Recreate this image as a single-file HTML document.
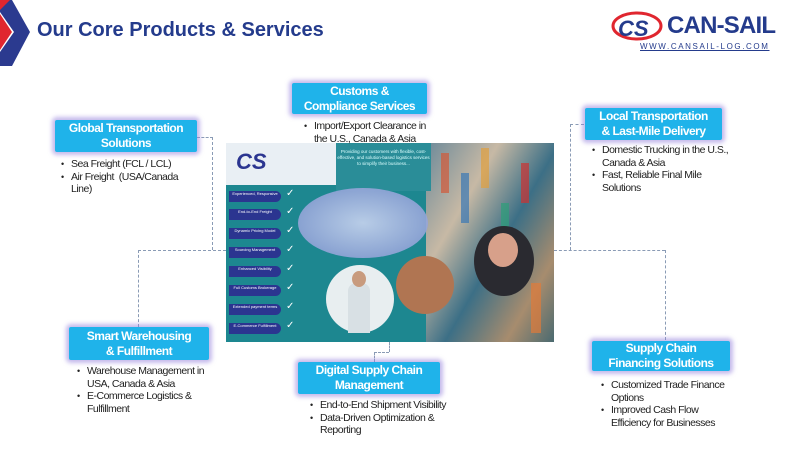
<!DOCTYPE html>
<html><head><meta charset="utf-8"><style>
body{margin:0;width:800px;height:453px;background:#fff;position:relative;overflow:hidden;font-family:"Liberation Sans",sans-serif;}
.abs{position:absolute}
.box{position:absolute;background:#1fb3ea;color:#fff;font-weight:bold;font-size:12px;letter-spacing:-0.5px;line-height:15px;text-align:center;display:flex;align-items:center;justify-content:center;box-shadow:0 0 4px 3px rgba(150,130,220,.55);border-radius:2px}
ul{position:absolute;margin:0;padding:0 0 0 14px;font-size:10.5px;letter-spacing:-0.5px;line-height:12.5px;color:#222;list-style:none;white-space:nowrap}
li{position:relative}
li:before{content:"•";position:absolute;left:-10px;font-size:9px}
.d{position:absolute;border-color:#8a9bb5;border-style:dashed;border-width:0}
.lab{position:absolute;left:3px;width:52px;height:11px;background:#2b3590;color:#fff;font-size:4px;line-height:5px;text-align:center;border-radius:0 6px 6px 0}
.chk{position:absolute;left:60px;color:#fff;font-size:10px}
</style></head><body>
<svg class="abs" style="left:0;top:0" width="32" height="70"><polygon points="0,0 12,0 30,32 12,66 0,66 0,52 14,32 0,12" fill="#2b3a8f"/><polygon points="0,14 12,32 0,50" fill="#e0262f"/><polygon points="0,0 10,0 0,10" fill="#e0262f"/></svg>
<div class="abs" style="left:37px;top:19px;font-weight:bold;font-size:20px;color:#243b8c">Our Core Products &amp; Services</div>
<svg class="abs" style="left:610px;top:10px" width="55" height="34"><ellipse cx="27" cy="16" rx="24" ry="13" fill="none" stroke="#e0262f" stroke-width="3"/><text x="8" y="26" font-family="Liberation Sans" font-weight="bold" font-style="italic" font-size="22" fill="#243b8c">CS</text></svg>
<div class="abs" style="left:667px;top:12px;font-weight:bold;font-size:24px;letter-spacing:-0.8px;color:#243b8c">CAN-SAIL</div>
<div class="abs" style="left:640px;top:42px;font-size:8px;letter-spacing:1.6px;color:#243b8c;text-decoration:underline">WWW.CANSAIL-LOG.COM</div>

<div class="abs" style="left:226px;top:143px;width:328px;height:199px;background:#1d8790;overflow:hidden">
<div class="abs" style="left:200px;top:0;width:128px;height:199px;background:linear-gradient(120deg,#6d8a9a,#c7b9a5 30%,#3c6f86 55%,#a78c6e 80%,#4a6a70)"></div>
<svg class="abs" style="left:195px;top:0" width="133" height="199"><g opacity=".7"><rect x="20" y="10" width="8" height="40" fill="#d25a3a"/><rect x="40" y="30" width="8" height="50" fill="#3a78b5"/><rect x="60" y="5" width="8" height="40" fill="#e0a040"/><rect x="80" y="60" width="8" height="50" fill="#2e9f7a"/><rect x="100" y="20" width="8" height="40" fill="#c33"/><rect x="110" y="140" width="10" height="50" fill="#e07b39"/></g></svg>
<div class="abs" style="left:0;top:0;width:110px;height:42px;background:#e9eff4"></div>
<div class="abs" style="left:10px;top:6px;font:bold italic 22px 'Liberation Sans';color:#2b3590">CS</div>
<div class="abs" style="left:110px;top:0;width:95px;height:42px;background:#2a8d98;color:#dff;font-size:4.5px;text-align:center;line-height:6px;padding-top:6px">Providing our customers with flexible, cost-effective, and solution-based logistics services to simplify their business...</div>
<div class="lab" style="top:48px">Experienced, Responsive</div><div class="chk" style="top:45px">✓</div>
<div class="lab" style="top:66px">End-to-End Freight</div><div class="chk" style="top:63px">✓</div>
<div class="lab" style="top:85px">Dynamic Pricing Model</div><div class="chk" style="top:82px">✓</div>
<div class="lab" style="top:104px">Sourcing Management</div><div class="chk" style="top:101px">✓</div>
<div class="lab" style="top:123px">Enhanced Visibility</div><div class="chk" style="top:120px">✓</div>
<div class="lab" style="top:142px">Full Customs Brokerage</div><div class="chk" style="top:139px">✓</div>
<div class="lab" style="top:161px">Extended payment terms</div><div class="chk" style="top:158px">✓</div>
<div class="lab" style="top:180px">E-Commerce Fulfillment</div><div class="chk" style="top:177px">✓</div>
<div class="abs" style="left:72px;top:45px;width:130px;height:70px;border-radius:50%;background:radial-gradient(#c9d4f0,#7f91cf);opacity:.9"></div>
<div class="abs" style="left:100px;top:122px;width:68px;height:68px;border-radius:50%;background:#e8eef0"></div>
<div class="abs" style="left:122px;top:140px;width:22px;height:50px;background:#d8e0e4;border-radius:8px 8px 0 0"></div>
<div class="abs" style="left:126px;top:128px;width:14px;height:16px;background:#c89b7e;border-radius:50%"></div>
<div class="abs" style="left:170px;top:113px;width:58px;height:58px;border-radius:50%;background:#b07552"></div>
<div class="abs" style="left:248px;top:83px;width:60px;height:70px;border-radius:50%;background:#2a2a30"></div>
<div class="abs" style="left:262px;top:90px;width:30px;height:34px;border-radius:50%;background:#d7a08a"></div>
</div>

<div class="d" style="left:197px;top:137px;width:16px;border-top-width:1px"></div>
<div class="d" style="left:212px;top:137px;height:113px;border-left-width:1px"></div>
<div class="d" style="left:138px;top:250px;width:88px;border-top-width:1px"></div>
<div class="d" style="left:138px;top:250px;height:77px;border-left-width:1px"></div>
<div class="d" style="left:570px;top:124px;width:14px;border-top-width:1px"></div>
<div class="d" style="left:570px;top:124px;height:126px;border-left-width:1px"></div>
<div class="d" style="left:554px;top:250px;width:111px;border-top-width:1px"></div>
<div class="d" style="left:665px;top:250px;height:90px;border-left-width:1px"></div>
<div class="d" style="left:374px;top:352px;width:15px;border-top-width:1px"></div>
<div class="d" style="left:389px;top:342px;height:10px;border-left-width:1px"></div>
<div class="d" style="left:374px;top:352px;height:10px;border-left-width:1px"></div>

<div class="box" style="left:55px;top:120px;width:142px;height:32px">Global Transportation<br>Solutions</div>
<ul style="left:57px;top:158px"><li>Sea Freight (FCL / LCL)</li><li>Air Freight &nbsp;(USA/Canada<br>Line)</li></ul>
<div class="box" style="left:292px;top:83px;width:135px;height:31px">Customs &amp;<br>Compliance Services</div>
<ul style="left:300px;top:120px"><li>Import/Export Clearance in<br>the U.S., Canada &amp; Asia</li></ul>
<div class="box" style="left:585px;top:108px;width:137px;height:32px">Local Transportation<br>&amp; Last-Mile Delivery</div>
<ul style="left:588px;top:144px"><li>Domestic Trucking in the U.S.,<br>Canada &amp; Asia</li><li>Fast, Reliable Final Mile<br>Solutions</li></ul>
<div class="box" style="left:69px;top:327px;width:140px;height:33px">Smart Warehousing<br>&amp; Fulfillment</div>
<ul style="left:73px;top:365px"><li>Warehouse Management in<br>USA, Canada &amp; Asia</li><li>E-Commerce Logistics &amp;<br>Fulfillment</li></ul>
<div class="box" style="left:298px;top:362px;width:142px;height:32px">Digital Supply Chain<br>Management</div>
<ul style="left:306px;top:399px"><li>End-to-End Shipment Visibility</li><li>Data-Driven Optimization &amp;<br>Reporting</li></ul>
<div class="box" style="left:592px;top:341px;width:138px;height:30px">Supply Chain<br>Financing Solutions</div>
<ul style="left:597px;top:379px"><li>Customized Trade Finance<br>Options</li><li>Improved Cash Flow<br>Efficiency for Businesses</li></ul>
</body></html>
